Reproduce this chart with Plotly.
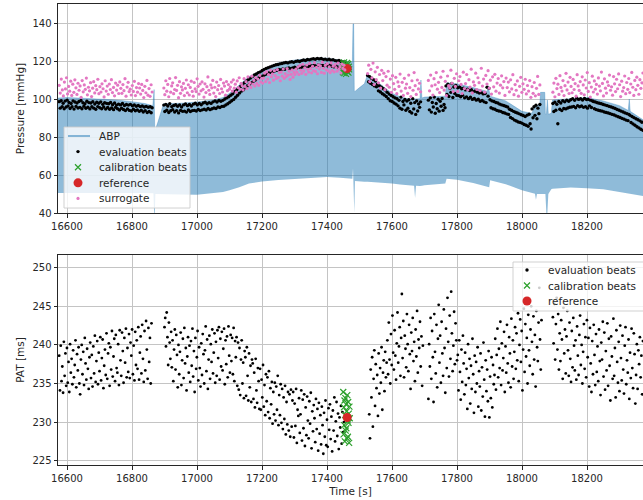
import numpy as np
import plotly.graph_objects as go

# ---------------- ABP envelope (systolic top / diastolic bottom), mmHg ----------------
abp_t = [16572, 16600, 16650, 16700, 16750, 16800, 16840, 16864, 16866, 16868, 16870, 16872,
         16880, 16890, 16897, 16950, 17000, 17050, 17080, 17100, 17130, 17160, 17200, 17250,
         17300, 17350, 17400, 17440, 17472, 17478, 17480, 17482, 17484, 17486, 17500, 17515,
         17525, 17550, 17575, 17600, 17625, 17650, 17668, 17671, 17674, 17686, 17689, 17692,
         17700, 17730, 17764, 17768, 17800, 17850, 17893, 17896, 17899, 17902, 17950, 18000,
         18030, 18040, 18043, 18046, 18055, 18057, 18070, 18072, 18075, 18078, 18081, 18090,
         18094, 18120, 18150, 18200, 18250, 18300, 18327, 18330, 18333, 18350, 18373]
abp_sys = [100.5, 100.8, 100.4, 100.0, 99.5, 98.6, 97.6, 96.5, 105.0, 105.0, 84.0, 84.0,
           88.0, 93.5, 97.5, 97.8, 98.4, 99.5, 100.8, 103.0, 107.5, 111.8, 115.0, 119.0,
           120.5, 121.3, 121.5, 120.5, 119.5, 119.5, 139.5, 139.5, 104.0, 104.0, 106.0, 108.0,
           113.0, 109.8, 106.5, 103.0, 101.2, 100.0, 100.0, 100.0, 100.0, 100.2, 110.0, 100.5,
           101.0, 101.2, 101.5, 108.5, 108.0, 106.0, 104.0, 107.0, 104.0, 101.5, 99.0, 93.5,
           92.5, 96.0, 96.0, 96.5, 97.5, 103.5, 103.5, 92.0, 92.0, 99.5, 92.0, 92.5,
           99.5, 99.8, 100.3, 100.8, 99.0, 96.5, 94.0, 100.0, 93.5, 91.5, 89.0]
abp_dia = [50.5, 50.5, 50.8, 50.6, 50.5, 50.7, 50.5, 50.4, 50.4, 40.0, 40.0, 50.0,
           50.0, 50.0, 50.0, 49.8, 49.6, 50.3, 51.0, 52.0, 53.5, 55.5, 56.6, 57.4,
           58.0, 58.4, 58.9, 58.5, 58.0, 58.0, 63.5, 40.0, 40.0, 56.8, 56.5, 56.5,
           56.4, 56.2, 55.9, 55.5, 55.0, 54.6, 54.3, 48.0, 54.3, 54.2, 54.2, 54.3,
           54.6, 55.0, 55.5, 58.0, 57.5, 55.8, 53.6, 53.6, 53.6, 57.2, 55.2, 52.0,
           50.5, 50.2, 47.0, 50.0, 50.0, 50.0, 50.0, 50.0, 40.0, 40.0, 50.0, 52.5,
           52.8, 53.0, 53.4, 53.0, 52.5, 51.0, 50.3, 50.2, 50.0, 49.6, 49.0]

# ---------------- beat segments (start, end time in s) ----------------
sbp_spans = [(16576, 16862), (16898, 17455), (17525, 17688), (17712, 18055), (18095, 18372)]
pat_spans = [(16576, 16860), (16900, 17452), (17530, 17695), (17712, 18060), (18095, 18372)]
calib_span_top = (17448, 17468)
calib_span_pat = (17450, 17470)

# evaluation beats, systolic pressure (mmHg)
sbp_eval_a = [98.6, 95.2, 99.1, 96.0, 97.8, 94.9, 98.9, 95.8, 99.4, 96.3,
              98.2, 95.0, 97.6, 95.9, 99.0, 94.7, 98.4, 96.1, 97.9, 95.3,
              98.7, 95.6, 99.2, 94.9, 98.0, 96.2, 97.5, 95.1, 98.8, 95.7,
              98.1, 94.8, 97.9, 95.9, 98.6, 95.2, 97.4, 94.6, 98.3, 96.0,
              97.8, 95.4, 98.5, 94.9, 97.2, 95.8, 98.1, 94.7, 97.7, 95.5,
              97.5, 94.6, 98.2, 95.3, 97.0, 94.4, 97.9, 95.6, 96.8, 94.9,
              97.3, 94.2, 96.9, 95.1, 97.6, 94.5, 96.6, 93.9, 97.1, 94.8,
              96.8, 94.0, 97.2, 93.7, 96.4, 94.6, 96.9, 93.8, 96.2, 94.3,
              96.6, 93.5, 96.0, 94.1, 96.3, 93.2, 95.8, 93.9, 96.1, 92.9,
              95.7, 93.4, 95.9, 92.8, 95.4]
sbp_eval_b = [96.8, 93.4, 97.2, 94.1, 96.3, 92.9, 97.5, 93.8, 96.0, 94.4,
              96.6, 93.2, 97.0, 93.9, 96.2, 92.7, 96.9, 94.0, 95.8, 93.5,
              96.9, 93.6, 97.4, 93.1, 96.5, 94.2, 97.1, 93.4, 96.3, 93.9,
              97.3, 94.0, 97.8, 93.7, 96.9, 94.5, 97.6, 93.9, 97.0, 94.3,
              97.9, 94.6, 98.3, 94.2, 97.5, 95.0, 98.1, 94.4, 97.7, 94.9,
              98.5, 95.3, 99.0, 95.0, 98.4, 95.8, 99.2, 95.5, 98.8, 96.1,
              99.3, 96.2, 100.0, 96.9, 100.6, 97.5, 101.2, 98.3, 102.0, 99.1,
              102.8, 99.8, 103.9, 100.9, 104.8, 102.0, 105.7, 103.1, 106.6, 104.2,
              107.7, 104.9, 108.6, 106.0, 109.5, 107.0, 110.3, 107.8, 111.0, 108.6,
              111.8, 109.3, 112.6, 110.0, 113.2, 110.8, 113.9, 111.3, 114.3, 111.9,
              115.0, 112.2, 115.6, 112.9, 116.1, 113.3, 116.5, 113.8, 116.9, 114.1,
              117.3, 114.4, 117.7, 114.9, 118.0, 115.1, 118.2, 115.5, 118.5, 115.3,
              118.7, 115.8, 119.0, 115.6, 119.2, 116.1, 119.0, 116.3, 119.4, 116.0,
              119.6, 116.4, 119.3, 116.7, 119.8, 116.2, 120.0, 116.9, 119.7, 116.5,
              120.2, 117.0, 120.5, 116.8, 120.3, 117.3, 120.8, 117.1, 120.6, 117.5,
              121.0, 117.4, 121.2, 117.8, 120.9, 117.2, 121.4, 117.9, 121.1, 117.6,
              121.3, 117.7, 120.8, 117.5, 121.0, 117.9, 120.6, 117.3, 120.9, 117.8,
              120.4, 117.2, 120.7, 116.9, 120.2, 117.4, 120.0, 116.7, 120.3, 116.6,
              119.8, 116.4, 119.5, 116.8, 119.2]
sbp_eval_c = [112.4, 109.1, 111.8, 108.3, 110.9, 107.6, 110.2, 106.9, 109.5, 106.4,
              107.8, 104.3, 106.9, 103.7, 106.2, 102.8, 105.4, 102.1, 104.7, 101.3,
              103.5, 100.2, 102.6, 99.1, 101.9, 98.7, 101.2, 97.9, 100.6, 97.3,
              100.1, 96.4, 99.3, 95.2, 101.0, 94.6, 98.7, 96.9, 99.8, 94.1,
              98.9, 95.1, 99.6, 93.4, 97.8, 92.6, 100.2, 94.8, 98.1, 91.9,
              99.0, 93.7, 97.4, 95.6, 98.5]
sbp_eval_d = [99.4, 94.3, 100.6, 93.1, 98.2, 95.8, 101.0, 92.5, 97.6, 94.9,
              99.9, 93.6, 98.8, 96.2, 100.3, 94.0, 97.1, 95.4,
              106.9, 102.4, 107.8, 101.3, 105.6, 103.5, 108.2, 100.8, 106.3, 102.9,
              107.1, 101.9,
              105.9, 101.8, 106.3, 101.2, 105.4, 102.0, 105.7, 100.6, 104.8, 101.1,
              105.2, 100.2, 104.5, 100.9, 104.9, 99.8, 103.9, 100.3, 104.2, 99.4,
              103.6, 99.9, 103.1, 98.8, 103.4, 99.2, 102.7, 98.5, 102.9, 98.1,
              106.2, 101.5, 105.6,
              99.6, 95.4, 99.0, 94.9, 98.7, 94.6, 98.2, 94.0, 97.9, 93.7,
              97.3, 93.5, 96.9, 92.9, 96.6, 92.6, 96.2, 92.2, 95.8, 91.9,
              94.6, 90.3, 94.1, 89.7, 93.5, 88.9, 93.0, 88.4, 92.6, 87.9,
              92.2, 87.6, 91.7, 87.2, 91.3, 86.6, 90.8, 86.2, 91.5, 85.7,
              92.0, 87.0, 84.2,
              94.8, 90.1, 95.9, 91.4, 96.7, 89.6, 95.2, 92.3, 97.1]
sbp_eval_e = [97.6, 93.4, 98.3, 94.1, 97.2, 87.0, 98.7, 94.6, 97.9, 93.9,
              99.1, 95.0, 98.5, 94.8, 99.4, 95.3, 98.8, 95.7,
              99.6, 95.8, 100.2, 96.1, 99.3, 95.4, 100.5, 96.5, 99.8, 95.9,
              100.1, 96.3, 99.5, 95.6, 100.3, 96.0, 99.7, 95.2, 99.9, 96.4,
              99.4, 95.5, 99.0,
              98.7, 94.9, 98.4, 94.4, 98.0, 94.1, 97.8, 93.8, 97.5, 93.6,
              97.1, 93.2, 96.8, 92.9, 96.5, 92.6, 96.1, 92.3, 95.8, 91.9,
              95.4, 91.6, 95.0, 91.1, 94.5, 90.7, 94.1, 90.3, 93.6, 89.8,
              93.2, 89.4, 92.7, 88.9, 92.3, 88.6, 91.9,
              91.4, 87.6, 90.8, 86.9, 90.2, 86.2, 89.6, 85.4, 89.1, 84.8,
              88.5, 84.1, 87.8, 83.5]

# surrogate (mmHg)
sur_a = [107.2, 103.1, 110.5, 104.8, 101.6, 108.9, 105.3, 111.2, 102.7, 106.6,
         104.1, 109.4, 101.9, 107.8, 103.5, 110.1, 105.9, 102.4, 108.3, 104.6,
         106.9, 100.9, 109.7, 103.8, 107.4, 105.1, 111.0, 102.2, 106.2, 104.3,
         108.6, 101.3, 105.7, 109.1, 103.2, 107.0, 104.9, 110.4, 102.8, 106.5,
         103.7, 108.0, 105.4, 101.1, 109.6, 104.2, 106.8, 102.5, 107.9, 105.0,
         110.2, 103.4, 106.1, 101.7, 108.4, 104.7, 107.3, 102.9, 109.0, 105.6,
         103.0, 107.6, 104.4, 110.7, 101.5, 106.3, 108.8, 103.9, 105.2, 102.1,
         107.1, 104.0, 109.3, 101.8, 106.0, 103.6, 108.1, 105.8, 102.6, 107.7,
         104.5, 100.8, 106.7, 103.3, 109.8, 102.0, 105.5, 101.4, 107.5, 103.7]
sur_b = [105.8, 102.3, 109.6, 104.1, 107.7, 101.2, 110.8, 103.6, 106.9, 108.5,
         102.8, 105.0, 111.3, 104.5, 107.2, 100.7, 109.1, 103.0, 106.4, 104.8,
         108.2, 101.8, 105.6, 110.0, 103.3, 107.5, 102.1, 106.1, 109.4, 104.0,
         101.5, 108.7, 105.3, 103.9, 110.6, 106.7, 102.6, 107.9, 104.3, 109.0,
         105.1, 101.0, 108.0, 103.4, 106.5, 111.6, 104.6, 102.4, 107.4, 105.9,
         109.8, 103.1, 106.2, 101.3, 108.9, 104.9, 107.1, 102.9, 110.3, 105.4,
         103.7, 108.4, 106.8, 102.0, 109.2, 104.4, 107.6, 105.2,
         106.3, 108.9, 104.2, 110.1, 105.7, 107.8, 103.6, 109.5, 106.0, 111.2,
         105.1, 108.3, 107.0, 104.8, 110.7, 106.6, 109.1, 105.5, 111.6, 107.4,
         108.6, 106.1, 112.0, 107.9, 109.8, 106.9, 111.3, 108.2, 110.5, 107.2,
         112.4, 109.0, 110.9, 108.4,
         111.0, 113.6, 109.2, 114.4, 110.5, 112.8, 108.7, 115.1, 111.7, 113.2,
         109.9, 114.9, 112.3, 110.8, 115.5, 111.4, 113.9, 109.6, 114.2, 112.0,
         115.8, 110.9, 113.4, 111.8, 116.0, 112.6, 114.6, 110.3, 113.0, 115.3,
         111.5, 114.0, 112.9, 115.7,
         114.1, 116.8, 112.9, 117.6, 115.2, 113.5, 118.3, 114.7, 116.4, 113.0,
         117.9, 115.6, 114.2, 118.8, 116.0, 113.8, 117.2, 115.0, 119.1, 114.5,
         116.7, 113.3, 118.0, 115.8, 117.4, 114.0, 119.4, 116.2, 113.6, 117.7,
         115.4, 118.6, 114.8, 116.9, 113.9, 119.0, 115.1, 117.3, 114.3, 118.2,
         116.5, 114.6, 118.9, 115.7, 117.0, 113.7, 118.4, 116.1, 117.8, 115.3]
sur_c = [113.4, 117.8, 109.2, 115.6, 111.1, 118.9, 107.6, 114.3, 110.2, 116.7,
         108.5, 112.9, 105.8, 115.1, 109.7, 113.6, 104.9, 111.8, 107.3, 114.6,
         106.2, 110.5, 103.5, 112.3, 108.1, 105.1, 111.4, 102.8, 109.0, 106.6,
         113.1, 104.2, 108.8, 101.9, 110.9, 105.7, 107.9, 103.0, 112.6, 106.0,
         101.3, 109.6, 104.6, 113.9, 107.0, 102.4, 110.0, 105.3, 108.3, 103.8]
sur_d = [109.8, 104.3, 112.6, 106.9, 102.1, 110.7, 107.5, 113.9, 105.2, 108.8,
         103.4, 111.5, 106.1, 114.6, 104.7, 109.3, 101.8, 112.1, 107.0, 105.8,
         115.2, 108.3, 103.9, 110.9, 106.6, 113.3, 104.0, 109.6, 111.8, 107.7,
         102.9, 114.1, 105.5, 108.1, 112.9, 104.8, 110.2, 106.3, 115.7, 103.2,
         109.0, 107.2, 113.6, 105.0, 111.2, 108.6, 104.4, 116.2, 106.8, 110.5,
         103.6, 112.4, 107.9, 114.9, 105.7, 109.9, 102.6, 111.7, 106.4, 113.0,
         104.1, 108.4, 110.8, 103.1, 107.3, 112.2, 105.9, 109.2, 101.9, 111.0,
         106.0, 108.9, 103.8, 110.1, 105.3, 112.8, 102.3, 107.6, 104.6, 109.5,
         101.5, 106.7, 111.4, 103.5, 108.0, 105.1, 110.4, 102.7, 107.1, 104.2,
         109.7, 100.9, 106.5, 103.0, 108.7, 101.7, 105.6, 111.9, 102.4, 107.4]
sur_e = [103.6, 108.4, 101.2, 110.9, 105.5, 107.8, 102.4, 112.3, 106.1, 104.2,
         109.7, 101.8, 107.0, 113.5, 104.8, 108.9, 102.9, 111.4, 106.6, 103.3,
         110.3, 105.0, 108.1, 101.5, 112.8, 106.9, 104.5, 109.2, 103.0, 111.7,
         107.4, 102.2, 110.0, 105.8, 113.9, 104.0, 108.6, 101.0, 106.3, 112.0,
         103.7, 109.5, 105.2, 107.7, 102.6, 111.1, 106.8, 104.3, 114.2, 108.2,
         101.6, 110.6, 105.7, 103.1, 109.0, 107.1, 112.6, 104.6, 106.4, 102.0,
         111.8, 108.0, 103.9, 110.4, 105.4, 113.2, 107.5, 101.3, 109.4, 104.1,
         106.0, 112.1, 102.8, 108.7, 105.1, 110.8, 103.4, 107.9, 114.0, 106.2,
         101.9, 109.8, 104.9, 111.5, 107.2, 102.5, 110.2, 105.6, 108.5, 113.7]

# calibration beats (mmHg) and reference
sbp_calib = [117.2, 114.1, 118.6, 115.3, 119.3, 113.6, 116.8, 114.8, 118.1, 115.9,
             113.2, 117.6, 115.0, 119.0, 114.4, 116.5, 118.4, 113.9, 117.0, 115.6]
ref_t = [17462]
ref_sbp = [116.0]
ref_pat = [230.6]

# ---------------- PAT (ms) ----------------
pat_a = [238.6, 234.1, 239.9, 235.3, 237.2, 233.8, 240.4, 236.0, 238.9, 234.7,
         239.6, 235.1, 237.8, 233.9, 240.1, 236.4, 238.2, 234.9, 239.3, 235.8,
         237.4, 240.6, 234.5, 238.8, 236.7, 239.7, 235.0, 233.6, 238.1, 240.0,
         236.2, 239.1, 234.8, 240.9, 237.6, 235.5, 239.5, 236.9, 234.3, 238.4,
         240.3, 235.7, 238.7, 234.6, 239.8, 236.3, 241.2, 235.2, 237.9, 240.5,
         234.9, 239.0, 236.6, 241.0, 235.4, 238.3, 240.7, 234.4, 237.3, 239.4,
         236.1, 241.5, 235.6, 238.9, 240.2, 234.7, 239.7, 236.8, 241.8, 235.9,
         238.5, 240.8, 235.3, 241.3, 237.0, 236.4, 240.1, 234.8, 241.9, 238.0,
         236.0, 241.6, 239.2, 235.1, 240.9, 237.7, 242.1, 235.8, 239.6, 236.5,
         241.4, 235.7, 240.3, 238.6, 242.0, 236.2, 239.9, 235.4, 241.7, 237.4,
         240.6, 236.9, 242.3, 235.5, 239.0, 241.1, 236.3, 242.6, 238.2, 235.2,
         241.8, 236.7, 243.1, 239.4, 235.6, 242.2, 237.8, 240.9, 235.0, 242.8]
pat_b = [242.3, 243.5, 239.8, 244.2, 241.0, 237.4, 242.9, 240.3, 238.2, 241.7,
         237.1, 240.6, 235.3, 239.4, 242.0, 236.8, 241.3, 238.7, 234.5, 240.0,
         236.2, 239.1, 241.6, 234.8, 238.0, 240.8, 235.7, 242.2, 237.6, 239.6,
         234.1, 238.5, 241.0, 236.4, 239.9, 235.2, 240.5, 237.3, 242.1, 235.9,
         239.2, 233.9, 240.9, 236.9, 238.4, 241.8, 235.4, 239.7, 237.0, 234.6,
         240.2, 236.1, 241.4, 238.8, 235.0, 239.3, 242.4, 236.6, 240.7, 234.3,
         238.1, 241.2, 235.6, 240.1, 237.8, 242.0, 236.3, 239.0, 241.5, 235.1,
         240.4, 236.0, 241.9, 238.3, 242.3, 235.5, 240.8, 237.2, 241.7, 236.7,
         239.5, 242.1, 234.9, 240.6, 237.5, 241.1, 235.8, 242.4, 238.6, 236.4,
         241.3, 237.9, 240.9, 236.2, 242.2, 235.3, 240.5, 238.4, 241.0, 234.7,
         240.3, 234.2, 239.6, 233.5, 238.1, 240.6, 235.0, 237.7, 233.1, 239.2,
         238.4, 233.4, 239.7, 236.0, 232.8, 238.9, 234.5, 237.3, 232.6, 238.1,
         237.6, 233.0, 236.4, 231.9, 238.2, 234.1, 232.5, 237.0, 235.3, 231.7,
         236.9, 231.6, 235.5, 233.2, 237.4, 232.0, 234.8, 230.9, 236.2, 232.7,
         235.8, 231.3, 236.6, 230.5, 234.4, 232.3, 235.2, 229.8, 233.9, 231.0,
         235.1, 230.2, 234.6, 231.6, 236.0, 229.6, 233.5, 230.9, 234.9, 229.9,
         234.3, 229.1, 233.2, 230.4, 234.7, 228.4, 232.6, 229.7, 233.9, 228.9,
         233.6, 228.1, 234.2, 229.4, 232.8,
         233.9, 228.0, 232.4, 229.5, 234.3, 227.3, 231.6, 230.8, 233.1, 228.6,
         231.0, 234.1, 227.6, 232.9, 229.2, 233.6, 226.9, 231.9, 228.3, 233.3,
         230.2, 227.9, 232.7, 229.8, 233.8, 226.6, 231.4, 228.8, 232.2, 230.5,
         227.4, 233.0, 229.1, 231.7, 226.3, 232.5, 228.5, 230.9, 227.1, 232.0,
         229.6, 225.9, 231.2, 228.1, 232.8, 227.0, 230.3, 226.8, 231.8, 229.0,
         232.3, 227.8, 230.7, 226.2, 231.5, 228.9, 233.2, 227.5, 230.1, 232.6,
         228.2, 231.1, 226.5, 230.6, 229.3, 232.1, 227.2, 231.3, 228.7, 230.0]
pat_c = [231.0, 227.9, 236.8, 233.2, 238.4, 229.4, 235.6, 239.3, 232.1, 237.5,
         234.4, 236.1, 230.8, 238.9, 233.7, 237.0, 235.1, 239.7, 231.6, 236.4,
         238.0, 234.0, 239.1, 235.8, 237.7,
         240.6, 236.2, 242.9, 238.1, 235.0, 241.4, 237.4, 243.8, 239.0, 236.8,
         241.9, 238.6, 235.5, 240.2, 244.2, 237.7, 239.8, 242.3, 236.0, 240.9,
         246.6, 238.3, 243.1, 235.8, 241.2, 239.5, 237.1, 244.0, 240.1, 236.6,
         242.6, 238.8, 234.3, 241.6, 239.2, 243.5, 237.9, 240.4, 235.3, 242.0,
         238.5, 244.4, 236.4, 240.7, 239.6, 243.0, 237.2, 241.1, 234.7, 239.9]
pat_d = [233.0, 240.1, 237.2, 243.5, 235.6, 241.8, 238.4, 232.6, 244.0, 239.1,
         236.3, 242.6, 234.5, 240.8, 245.2, 237.7, 241.2, 235.1, 243.0, 238.9,
         236.0, 244.6, 239.6, 233.8, 242.1, 237.0, 246.1, 240.4, 235.9, 243.8,
         238.2, 246.9, 241.5, 236.6, 239.9, 244.3, 237.5, 242.8, 240.6, 238.0,
         238.7, 234.1, 240.6, 236.5, 232.9, 239.4, 235.2, 241.2, 237.6, 233.6,
         239.0, 234.8, 236.9, 231.7, 240.1, 235.7, 238.2, 232.4, 237.3, 234.3,
         240.8, 236.2, 231.2, 238.6, 233.9, 237.8, 235.0, 239.7, 232.0, 236.6,
         234.6, 238.9, 231.5, 237.1, 233.3, 240.3, 235.5, 230.7, 238.0, 234.0,
         236.8, 232.7, 239.2, 230.6, 235.9, 233.1, 238.4, 231.9, 237.4, 234.9,
         236.1, 240.8, 234.2, 238.7, 242.1, 235.8, 239.5, 237.0, 243.0, 234.8,
         240.2, 236.7, 238.3, 241.7, 233.9, 239.8, 236.4, 242.6, 237.6, 235.1,
         241.0, 238.9, 234.5, 243.4, 237.2, 240.6, 235.6, 239.1, 242.3, 236.9,
         241.5, 238.0, 244.1, 235.3, 240.0, 243.3, 237.8, 241.8, 234.1, 239.4,
         244.7, 236.5, 242.7, 238.5, 240.9, 235.0, 243.9, 239.3, 237.3, 242.0,
         245.0, 240.4, 236.2, 243.7, 238.1, 241.3, 234.6, 244.4, 239.7, 237.9,
         242.9, 247.4, 240.7, 236.8, 243.2]
pat_e = [243.6, 240.2, 245.3, 238.1, 242.7, 246.1, 239.4, 244.0, 236.8, 241.5,
         237.9, 243.2, 240.7, 235.6, 244.8, 238.9, 242.0, 236.3, 241.1, 244.4,
         239.3, 236.0, 242.9, 238.2, 235.2, 241.8, 237.1, 243.5, 239.9, 236.7,
         240.6, 235.5, 242.4, 238.6, 236.1, 241.3, 243.8, 237.4, 240.0, 235.0,
         239.1, 242.7, 236.9, 241.0, 235.8, 243.2, 238.4, 240.9, 234.6, 242.2,
         237.6, 233.9, 240.5, 236.2, 242.6, 238.7, 234.8, 241.4, 236.5, 239.8,
         235.3, 242.0, 237.9, 233.5, 240.3, 238.1, 243.0, 235.9, 241.6, 234.2,
         239.2, 236.7, 242.8, 234.7, 240.8, 237.3, 232.8, 241.1, 238.5, 235.6,
         243.4, 236.0, 239.6, 233.2, 241.9, 237.8, 235.1, 240.4, 234.0, 242.5,
         238.3, 235.4, 241.2, 236.8, 233.7, 239.9, 242.3, 234.9, 238.0, 236.4,
         240.7, 233.0, 239.0, 235.7, 242.1, 237.0, 234.4, 241.5, 238.8, 232.4,
         236.1, 240.1, 234.3, 239.3, 237.5, 241.0, 235.8, 238.6, 233.6, 240.5]
pat_calib = [233.9, 228.4, 231.9, 229.6, 232.8, 227.5, 230.9, 233.1, 228.9, 232.3,
             229.2, 231.4, 227.9, 233.5, 230.2, 228.1, 232.6, 229.9, 231.1, 227.3,
             232.0, 230.5]

# tick values
x_ticks = [16600, 16800, 17000, 17200, 17400, 17600, 17800, 18000, 18200]
top_y_ticks = [40, 60, 80, 100, 120, 140]
bot_y_ticks = [225, 230, 235, 240, 245, 250]

# legend labels
top_legend_labels = ["ABP", "evaluation beats", "calibration beats", "reference", "surrogate"]
bot_legend_labels = ["evaluation beats", "calibration beats", "reference"]


def beat_times(spans, lists):
    ts, vs = [], []
    for (t0, t1), vals in zip(spans, lists):
        ts.extend(np.linspace(t0, t1, len(vals)).tolist())
        vs.extend(vals)
    return ts, vs


eval_t, eval_v = beat_times(sbp_spans, [sbp_eval_a, sbp_eval_b, sbp_eval_c, sbp_eval_d, sbp_eval_e])
sur_t, sur_v = beat_times(sbp_spans, [sur_a, sur_b, sur_c, sur_d, sur_e])
pat_t, pat_v = beat_times(pat_spans, [pat_a, pat_b, pat_c, pat_d, pat_e])
cal_t, cal_v = beat_times([calib_span_top], [sbp_calib])
calp_t, calp_v = beat_times([calib_span_pat], [pat_calib])

BLUE_A = "rgba(31,119,180,0.5)"
GREEN = "#2ca02c"
RED = "#d62728"
PINK = "#e377c2"
FONT = "DejaVu Sans"
TXT = "#262626"

EVAL_M = dict(size=3.4, color="black")
CAL_M = dict(size=6, symbol="x-thin", line=dict(width=1.2, color=GREEN), color=GREEN)
REF_M = dict(size=9, color=RED)
SUR_M = dict(size=3.2, color=PINK)

fig = go.Figure()

# ---- top panel ----
fig.add_trace(go.Scatter(x=abp_t, y=abp_dia, mode="lines", line=dict(width=0, color=BLUE_A),
                         hoverinfo="skip", xaxis="x", yaxis="y"))
fig.add_trace(go.Scatter(x=abp_t, y=abp_sys, mode="lines", line=dict(width=0.6, color=BLUE_A),
                         fill="tonexty", fillcolor=BLUE_A, name="ABP", hoverinfo="skip",
                         xaxis="x", yaxis="y"))
fig.add_trace(go.Scatter(x=eval_t, y=eval_v, mode="markers", name="evaluation beats",
                         marker=EVAL_M, xaxis="x", yaxis="y"))
fig.add_trace(go.Scatter(x=cal_t, y=cal_v, mode="markers", name="calibration beats",
                         marker=CAL_M, xaxis="x", yaxis="y"))
fig.add_trace(go.Scatter(x=ref_t, y=ref_sbp, mode="markers", name="reference",
                         marker=REF_M, xaxis="x", yaxis="y"))
fig.add_trace(go.Scatter(x=sur_t, y=sur_v, mode="markers", name="surrogate",
                         marker=SUR_M, xaxis="x", yaxis="y"))

# ---- bottom panel ----
fig.add_trace(go.Scatter(x=pat_t, y=pat_v, mode="markers", name="evaluation beats",
                         marker=dict(size=2.8, color="black"), xaxis="x2", yaxis="y2"))
fig.add_trace(go.Scatter(x=calp_t, y=calp_v, mode="markers", name="calibration beats",
                         marker=CAL_M, xaxis="x2", yaxis="y2"))
fig.add_trace(go.Scatter(x=ref_t, y=ref_pat, mode="markers", name="reference",
                         marker=REF_M, xaxis="x2", yaxis="y2"))

# ---- legends, drawn on overlay axes measured in plot-area pixels ----
FRAME = dict(mode="lines", fill="toself", fillcolor="rgba(255,255,255,0.8)",
             line=dict(color="rgba(204,204,204,0.9)", width=1), hoverinfo="skip")


def legend_block(lx, ly, x0, x1, y0, y1, rows):
    fig.add_trace(go.Scatter(x=[x0, x1, x1, x0, x0], y=[y0, y0, y1, y1, y0], xaxis=lx, yaxis=ly, **FRAME))
    for yy, label, kind, mk in rows:
        if kind == "line":
            fig.add_trace(go.Scatter(x=[x0 + 4, x0 + 26], y=[yy, yy], mode="lines",
                                     line=dict(color=BLUE_A, width=2), hoverinfo="skip",
                                     xaxis=lx, yaxis=ly))
        else:
            fig.add_trace(go.Scatter(x=[x0 + 14], y=[yy], mode="markers", marker=mk,
                                     hoverinfo="skip", xaxis=lx, yaxis=ly))
        fig.add_annotation(x=x0 + 33, y=yy, xref=lx, yref=ly, text=label, showarrow=False,
                           xanchor="left", yanchor="middle",
                           font=dict(family=FONT, size=10.5, color=TXT))


top_kinds = [("line", None), ("m", EVAL_M), ("m", CAL_M), ("m", REF_M), ("m", SUR_M)]
legend_block("x3", "y3", 6, 132, 123, 204,
             [(132 + 15.6 * i, lab, k, m) for i, (lab, (k, m)) in enumerate(zip(top_legend_labels, top_kinds))])
bot_kinds = [("m", EVAL_M), ("m", CAL_M), ("m", REF_M)]
legend_block("x4", "y4", 455, 590, 7, 56,
             [(15 + 15.5 * i, lab, k, m) for i, (lab, (k, m)) in enumerate(zip(bot_legend_labels, bot_kinds))])

XR = [16572.3, 18372.3]
axis_common = dict(showgrid=True, gridcolor="#c4c4c4", gridwidth=1, zeroline=False,
                   showline=True, linecolor=TXT, linewidth=1, ticks="outside",
                   ticklen=3.5, tickwidth=0.8, tickcolor=TXT, tickformat="d",
                   tickfont=dict(family=FONT, size=10, color=TXT))
hidden = dict(visible=False, fixedrange=True, showgrid=False, zeroline=False)

fig.update_layout(
    width=643, height=500,
    margin=dict(l=58, r=0, t=4, b=35),
    paper_bgcolor="white", plot_bgcolor="white",
    showlegend=False,
    font=dict(family=FONT, size=10, color=TXT),
    xaxis=dict(domain=[0, 1], anchor="y", range=XR, tickvals=x_ticks, mirror=True, **axis_common),
    yaxis=dict(domain=[0.5466, 1], anchor="x", range=[40, 150], tickvals=top_y_ticks, mirror=False,
               title=dict(text="Pressure [mmHg]", font=dict(family=FONT, size=10.5), standoff=5),
               **axis_common),
    xaxis2=dict(domain=[0, 1], anchor="y2", range=XR, tickvals=x_ticks, mirror=True,
                title=dict(text="Time [s]", font=dict(family=FONT, size=10.5), standoff=5),
                **axis_common),
    yaxis2=dict(domain=[0, 0.4555], anchor="x2", range=[224.44, 251.65], tickvals=bot_y_ticks,
                mirror=False,
                title=dict(text="PAT [ms]", font=dict(family=FONT, size=10.5), standoff=5),
                **axis_common),
    xaxis3=dict(overlaying="x", anchor="y3", range=[0, 585], **hidden),
    yaxis3=dict(overlaying="y", anchor="x3", range=[209, 0], **hidden),
    xaxis4=dict(overlaying="x2", anchor="y4", range=[0, 585], **hidden),
    yaxis4=dict(overlaying="y2", anchor="x4", range=[210, 0], **hidden),
)

fig.write_html("out.html", config={"displayModeBar": False},
               post_script="document.body.style.margin='0px';")
